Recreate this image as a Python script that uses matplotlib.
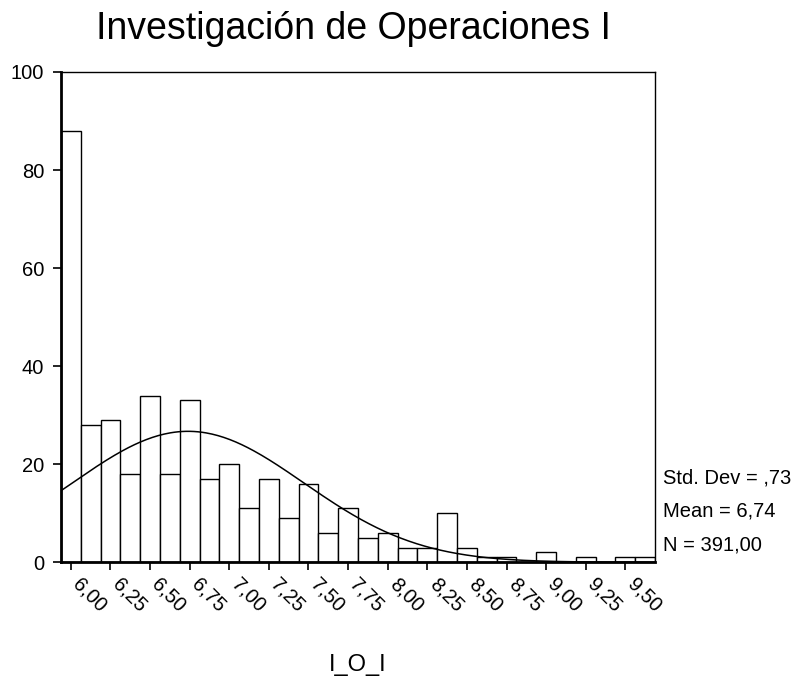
import numpy as np
import matplotlib
matplotlib.use("Agg")
import matplotlib.pyplot as plt
import matplotlib.transforms as mtransforms

plt.rcParams["font.family"] = ["Liberation Sans", "DejaVu Sans"]

# Histogram bins (midpoints) and counts
bin_centers = [6.000, 6.125, 6.250, 6.375, 6.500, 6.625, 6.750, 6.875,
               7.000, 7.125, 7.250, 7.375, 7.500, 7.625, 7.750, 7.875,
               8.000, 8.125, 8.250, 8.375, 8.500, 8.625, 8.750, 8.875,
               9.000, 9.125, 9.250, 9.375, 9.500, 9.625]
counts = [88, 28, 29, 18, 34, 18, 33, 17,
          20, 11, 17, 9, 16, 6, 11, 5,
          6, 3, 3, 10, 3, 1, 1, 0,
          2, 0, 1, 0, 1, 1]
bin_width = 0.125

tick_values = [6.00, 6.25, 6.50, 6.75, 7.00, 7.25, 7.50, 7.75,
               8.00, 8.25, 8.50, 8.75, 9.00, 9.25, 9.50]
tick_labels = ["6,00", "6,25", "6,50", "6,75", "7,00", "7,25", "7,50", "7,75",
               "8,00", "8,25", "8,50", "8,75", "9,00", "9,25", "9,50"]

# Summary statistics shown beside the plot
std_dev = 0.73
mean = 6.74
n_total = 391

fig = plt.figure(figsize=(7.99, 6.79), dpi=100)
ax = fig.add_axes([0.0763, 0.1719, 0.7435, 0.7221])

ax.bar(bin_centers, counts, width=bin_width, color="white",
       edgecolor="black", linewidth=1.0, zorder=2)

# Normal curve fitted with the reported mean / std dev
xlo = bin_centers[0] - bin_width / 2
xhi = bin_centers[-1] + bin_width / 2
xs = np.linspace(xlo, xhi, 300)
ys = n_total * bin_width * np.exp(-0.5 * ((xs - mean) / std_dev) ** 2) / (std_dev * np.sqrt(2 * np.pi))
ax.plot(xs, ys, color="black", linewidth=1.1, zorder=3)

ax.set_xlim(xlo, xhi)
ax.set_ylim(0, 100)
ax.set_yticks([0, 20, 40, 60, 80, 100])
ax.set_xticks(tick_values)
ax.set_xticklabels(tick_labels, rotation=-45, ha="left", va="center",
                   rotation_mode="anchor")
ax.tick_params(axis="both", direction="out", length=6, width=1.2,
               labelsize=14.5, colors="black")
ax.tick_params(axis="x", pad=8)
ax.tick_params(axis="y", pad=6)

# nudge the slanted labels a little to the right, like the original
shift = mtransforms.ScaledTranslation(5 / 100, 0, fig.dpi_scale_trans)
for lbl in ax.get_xticklabels():
    lbl.set_transform(lbl.get_transform() + shift)

for side in ["left", "bottom"]:
    ax.spines[side].set_linewidth(2.0)
for side in ["top", "right"]:
    ax.spines[side].set_linewidth(1.0)

fig.text(0.448, 0.021, "I_O_I", fontsize=17, ha="center", va="center")
fig.text(0.442, 0.957, "Investigación de Operaciones I", fontsize=27,
         ha="center", va="center")

fig.text(0.830, 0.296, "Std. Dev = ,73", fontsize=14.5, va="center")
fig.text(0.830, 0.247, "Mean = 6,74", fontsize=14.5, va="center")
fig.text(0.830, 0.197, "N = 391,00", fontsize=14.5, va="center")

fig.savefig("out.png", dpi=100)
